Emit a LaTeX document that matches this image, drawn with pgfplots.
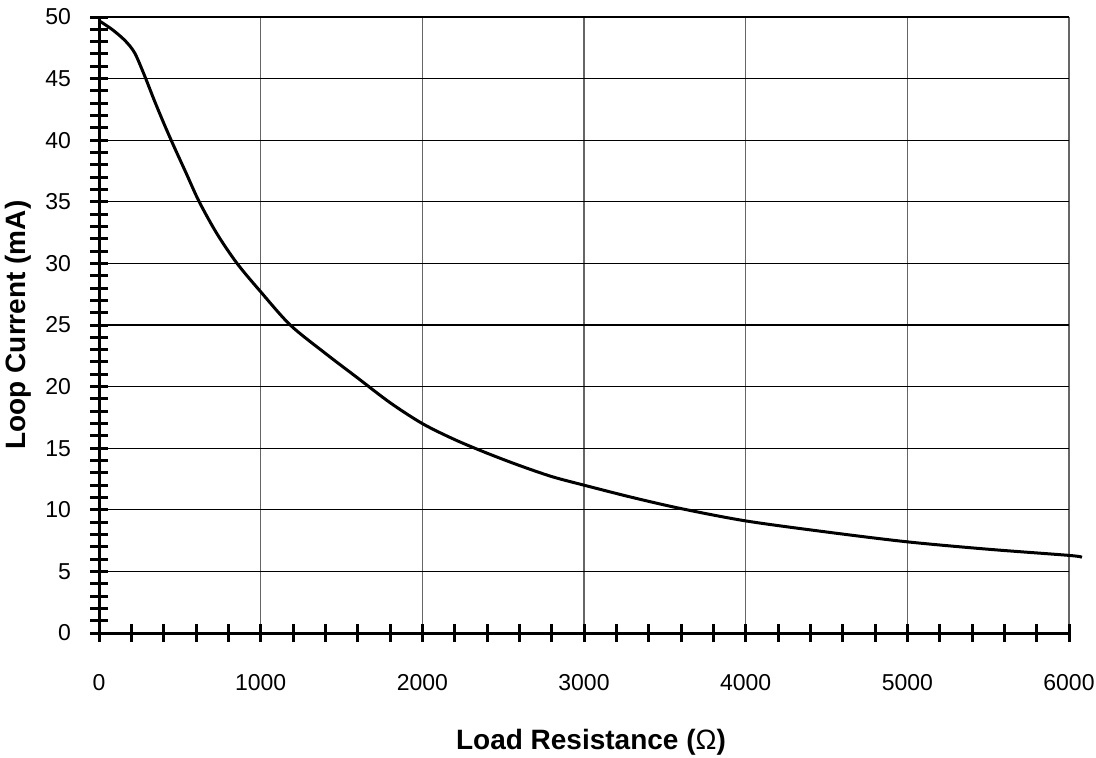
\documentclass[border=0pt]{standalone}
\usepackage{pgfplots}
\pgfplotsset{compat=1.18}
\usepackage{fontspec}
\setmainfont{Liberation Sans}
\begin{document}
\begin{tikzpicture}
\path[use as bounding box] (-49.5pt,-62pt) rectangle (498.5pt,316.5pt);
\begin{axis}[
  at={(0,0)}, anchor=south west,
  scale only axis, width=485pt, height=308pt,
  xmin=0, xmax=6000, ymin=0, ymax=50,
  clip=false,
  axis lines=left,
  axis line style={line width=1.5pt, -},
  xtick={0,1000,...,6000}, ytick={0,5,...,50},
  minor x tick num=4, minor y tick num=4,
  tick align=center,
  major tick length=9pt, minor tick length=9pt,
  every tick/.style={black, line width=1.5pt},
  grid=major,
  x grid style={line width=0.6pt, gray!80!black},
  y grid style={line width=0.6pt, black},
  /pgf/number format/assume math mode=true,
  /pgf/number format/set thousands separator={},
  ticklabel style={font=\fontsize{11.5}{13}\selectfont},
  xticklabel style={yshift=-12.5pt},
  yticklabel style={xshift=-6pt},
  xlabel={\textbf{Load Resistance (}Ω\textbf{)}},
  ylabel={\textbf{Loop Current (mA)}},
  label style={font=\fontsize{14}{16}\selectfont},
  xlabel style={at={(axis description cs:0.5,0)}, anchor=center, inner sep=0pt, yshift=-54.5pt, xshift=3.5pt},
  ylabel style={at={(axis description cs:-0.0835,0.5)}, anchor=center},
]
\addplot[black, line width=1.5pt, smooth] coordinates {
(0,49.7) (80,49.0) (160,48.1) (220,47.1) (280,45.3) (340,43.3)
(400,41.4) (460,39.6) (540,37.3) (620,35.0) (730,32.4) (854,30.0) (1000,27.7)
(1183,25.0) (1400,22.7) (1600,20.7) (1800,18.7) (2000,17.0)
(2200,15.7) (2400,14.6) (2600,13.6) (2800,12.7) (3000,12.0) (3300,11.0)
(3600,10.1) (4000,9.1) (4500,8.2) (5000,7.4) (5500,6.8) (6000,6.3) (6080,6.15)
};
\end{axis}
\end{tikzpicture}
\end{document}
